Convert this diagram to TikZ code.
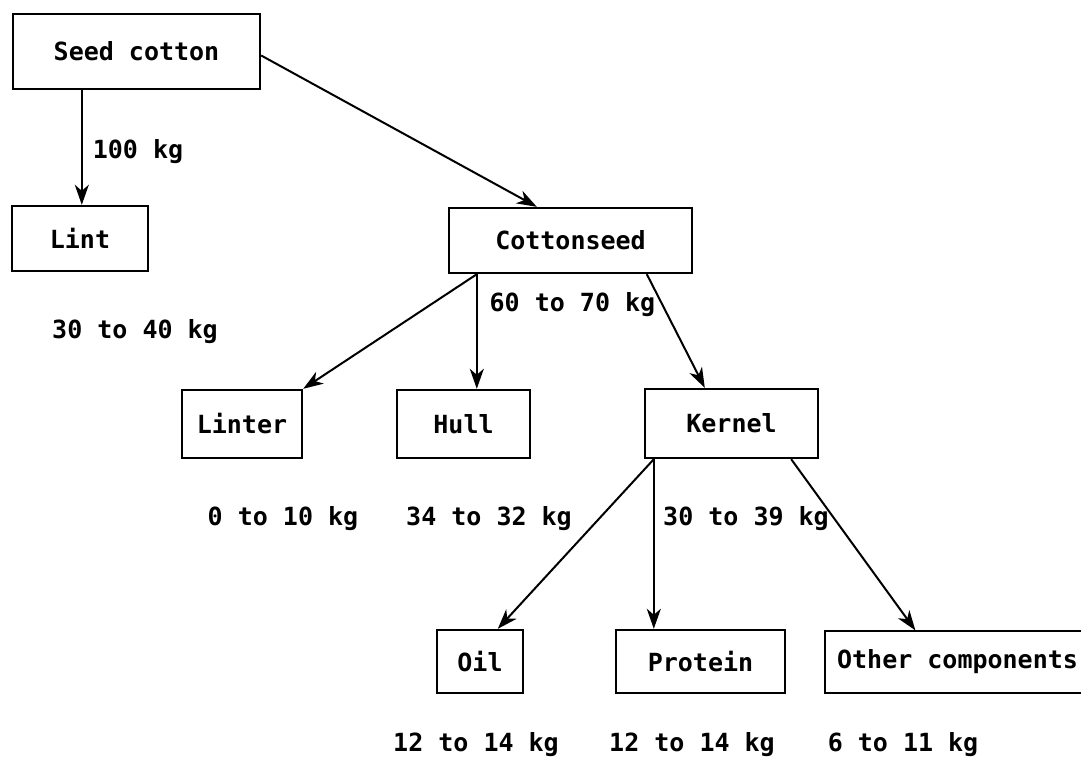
\documentclass[tikz,border=0pt]{standalone}
\usepackage{fontspec}
\setmonofont{DejaVu Sans Mono}
\usetikzlibrary{arrows.meta,calc}

\begin{document}
\begin{tikzpicture}[x=0.5pt,y=-0.5pt,line width=1pt,>={Stealth[length=10pt,width=7pt,inset=3pt]}]
\tikzstyle{every node}=[font=\ttfamily\bfseries\fontsize{12.5}{15}\selectfont]
\tikzstyle{box}=[draw,line width=1.2pt,inner sep=0pt]
\useasboundingbox (0,0) rectangle (1081,761);
% boxes
\node[box,minimum width=123.5pt,minimum height=37.5pt](seed) at (136.5,51.5){Seed cotton};
\node[box,minimum width=68pt,minimum height=32.5pt](lint) at (80,238.5){Lint};
\node[box,minimum width=121.5pt,minimum height=32.5pt](cotton) at (570.5,240.5){Cottonseed};
\node[box,minimum width=60pt,minimum height=34pt](linter) at (242,424){Linter};
\node[box,minimum width=66.5pt,minimum height=34pt](hull) at (463.5,424){Hull};
\node[box,minimum width=86.5pt,minimum height=34.5pt](kernel) at (731.5,423.5){Kernel};
\node[box,minimum width=43pt,minimum height=31.5pt](oil) at (480,661.5){Oil};
\node[box,minimum width=84.5pt,minimum height=31.5pt](protein) at (700.5,661.5){Protein};
\node[box,line width=0.6pt,minimum width=132.5pt,minimum height=31pt](other) at (957.5,662){Other components};
% amounts
\node(w100) at (138,152){100 kg};
\node(w3040) at (135,332){30 to 40 kg};
\node[anchor=west](w6070) at (482,305){60 to 70 kg};
\node(w010) at (283,519){0 to 10 kg};
\node(w3432) at (489,519){34 to 32 kg};
\node(w3039) at (746,519){30 to 39 kg};
\node(w1214a) at (476,745){12 to 14 kg};
\node(w1214b) at (692,745){12 to 14 kg};
\node(w611) at (903,745){6 to 11 kg};
% arrows
\coordinate (a) at ($(seed.south west)+(70,0)$);
\draw[->] (a) -- (a |- lint.north);
\draw[->] ($(seed.east)+(0,4)$) -- ($(cotton.north west)+(89,0)$);
\coordinate (b) at ($(cotton.south west)+(29,0)$);
\draw[->] (b) -- (linter.north east);
\draw[->] (b) -- (b |- hull.north);
\draw[->] ($(cotton.south west)+(199,0)$) -- ($(kernel.north west)+(61,0)$);
\coordinate (c) at ($(kernel.south west)+(10,0)$);
\draw[->] (c) -- ($(oil.north west)+(62,0)$);
\draw[->] (c) -- (c |- protein.north);
\draw[->] ($(kernel.south east)+(-28,0)$) -- ($(other.north west)+(91,0)$);
\end{tikzpicture}
\end{document}
